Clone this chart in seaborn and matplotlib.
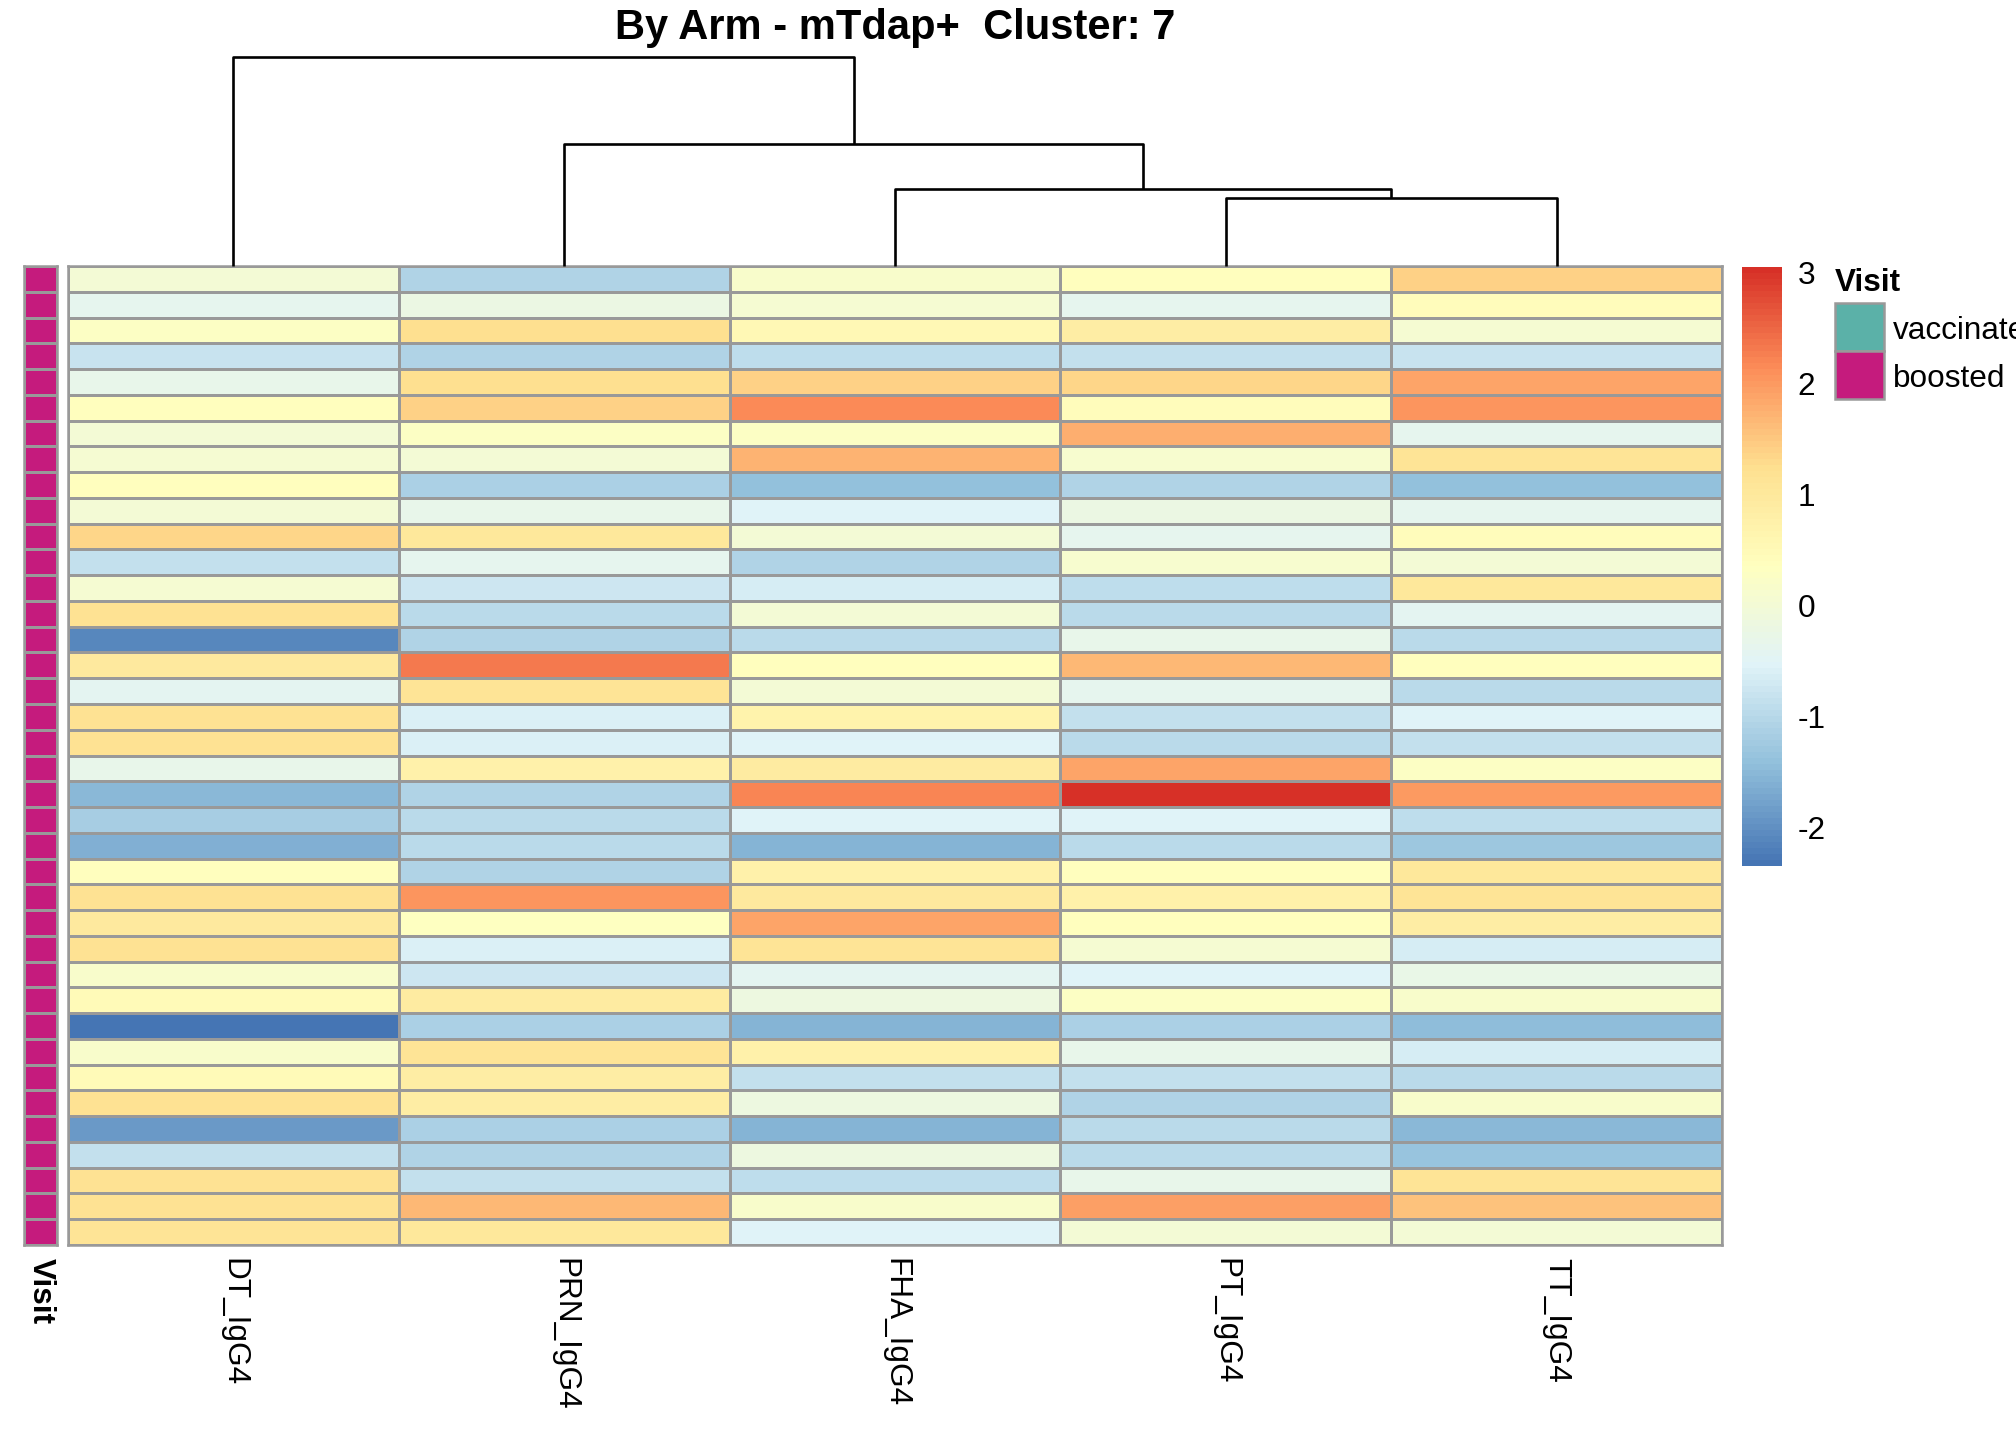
import numpy as np
import pandas as pd
import matplotlib
matplotlib.use("Agg")
import matplotlib.pyplot as plt
from matplotlib.colors import LinearSegmentedColormap, ListedColormap
from matplotlib.patches import Rectangle
import seaborn as sns

# ---- data (z-scored values, top row first) ----
antigens = ["DT_IgG4", "PRN_IgG4", "FHA_IgG4", "PT_IgG4", "TT_IgG4"]

dt = [0.0, -0.4, 0.25, -0.8, -0.3, 0.4, 0.0, 0.05, 0.4, 0.0, 1.35, -0.85, 0.05,
      1.2, -2.1, 0.95, -0.45, 1.2, 1.2, -0.3, -1.5, -1.2, -1.6, 0.4, 1.2, 0.95,
      1.2, 0.15, 0.5, -2.35, 0.15, 0.5, 1.2, -1.9, -0.85, 1.2, 1.2, 1.15]
prn = [-1.1, -0.2, 1.25, -1.1, 1.25, 1.4, 0.25, 0.0, -1.15, -0.3, 1.05, -0.4, -0.75,
       -1.0, -1.1, 2.3, 1.15, -0.6, -0.6, 0.75, -1.1, -0.95, -0.95, -1.1, 2.05, 0.3,
       -0.6, -0.75, 0.9, -1.15, 1.15, 0.85, 0.85, -1.15, -1.1, -0.85, 1.65, 1.05]
fha = [0.15, 0.05, 0.55, -0.9, 1.4, 2.15, 0.25, 1.75, -1.4, -0.55, 0.0, -1.1, -0.65,
       0.0, -0.95, 0.35, 0.0, 0.7, -0.55, 0.9, 2.2, -0.55, -1.55, 0.75, 0.95, 1.9,
       1.15, -0.45, -0.15, -1.55, 0.75, -0.85, -0.15, -1.55, -0.15, -0.9, 0.15, -0.55]
pt = [0.35, -0.4, 0.85, -0.85, 1.35, 0.45, 1.8, 0.1, -1.1, -0.2, -0.4, 0.1, -0.9,
      -0.95, -0.3, 1.65, -0.4, -0.85, -1.0, 1.9, 3.05, -0.55, -0.95, 0.35, 0.75, 0.4,
      0.05, -0.55, 0.25, -1.15, -0.35, -0.85, -1.1, -1.0, -0.95, -0.3, 1.95, 0.0]
tt = [1.4, 0.45, 0.05, -0.8, 1.9, 2.05, -0.4, 1.15, -1.4, -0.4, 0.45, 0.0, 1.05,
      -0.45, -0.95, 0.35, -0.95, -0.55, -0.85, 0.25, 2.0, -0.9, -1.3, 1.05, 1.15, 0.85,
      -0.65, -0.25, 0.15, -1.45, -0.65, -1.0, 0.15, -1.5, -1.35, 1.15, 1.55, 0.0]

visit = ["boosted"] * len(dt)
visit_levels = ["vaccinated", "boosted"]
visit_colors = ["#5BB1A8", "#C51B7D"]

# column dendrogram: (left node, right node, merge height), scipy-style node ids
col_tree = [(3, 4, 0.325), (2, 5, 0.368), (1, 6, 0.584), (0, 7, 1.0)]

title = "By Arm - mTdap+  Cluster: 7"

# ---- style ----
sns.set_theme(style="white")
plt.rcParams["font.family"] = ["Liberation Sans", "DejaVu Sans"]
plt.rcParams["axes.unicode_minus"] = False
plt.rcParams["text.color"] = "black"
plt.rcParams["xtick.color"] = "black"
plt.rcParams["ytick.color"] = "black"
FS = 22.7
GRID = "#999999"

df = pd.DataFrame(dict(zip(antigens, [dt, prn, fha, pt, tt])))

W, H = 2016, 1440
fig = plt.figure(figsize=(W / 100, H / 100), dpi=100)


def box(x0, y0, x1, y1):
    # pixel box (top-left origin) -> figure fraction rect
    return [x0 / W, 1 - y1 / H, (x1 - x0) / W, (y1 - y0) / H]


ax = fig.add_axes(box(68, 266, 1722, 1245))
sax = fig.add_axes(box(24, 266, 57, 1245))
dax = fig.add_axes(box(68, 57, 1722, 266))
cax = fig.add_axes(box(1742, 267, 1782, 866))

# main heatmap, pheatmap-like palette
palette = ["#4575B4", "#91BFDB", "#E0F3F8", "#FFFFBF", "#FEE090", "#FC8D59", "#D73027"]
cmap = LinearSegmentedColormap.from_list("rdylbu_r", palette, N=100)
sns.heatmap(df, ax=ax, cmap=cmap, vmin=df.values.min(), vmax=df.values.max(),
            linewidths=1.8, linecolor=GRID, cbar_ax=cax, yticklabels=False)
ax.set_xticklabels(antigens, rotation=270, va="top", ha="center", fontsize=FS,
                   color="black")
ax.tick_params(axis="x", length=0, pad=9)
for s in ax.spines.values():
    s.set_visible(True)
    s.set_color(GRID)
    s.set_linewidth(1.8)

# colorbar
cbar = ax.collections[0].colorbar
cbar.outline.set_visible(False)
cbar.set_ticks([-2, -1, 0, 1, 2, 3])
cbar.set_ticklabels(["-2", "-1", "0", "1", "2", "3"])
cax.tick_params(length=0, pad=11, labelsize=FS, labelcolor="black")

# annotation strip
codes = pd.DataFrame({"Visit": [visit_levels.index(v) for v in visit]})
sns.heatmap(codes, ax=sax, cmap=ListedColormap(visit_colors), vmin=0, vmax=1,
            cbar=False, linewidths=1.8, linecolor=GRID, yticklabels=False)
sax.set_xticklabels(["Visit"], rotation=270, va="top", ha="center",
                    fontsize=FS, fontweight="bold", color="black")
sax.tick_params(axis="x", length=0, pad=9)
for s in sax.spines.values():
    s.set_visible(True)
    s.set_color(GRID)
    s.set_linewidth(1.8)

# column dendrogram
n = len(antigens)
pos = {i: i + 0.5 for i in range(n)}
hgt = {i: 0.0 for i in range(n)}
for k, (a, b, h) in enumerate(col_tree):
    dax.plot([pos[a], pos[a], pos[b], pos[b]], [hgt[a], h, h, hgt[b]],
             color="black", lw=1.9, clip_on=False, solid_capstyle="butt")
    pos[n + k] = (pos[a] + pos[b]) / 2
    hgt[n + k] = h
dax.set_xlim(0, n)
dax.set_ylim(0, col_tree[-1][2])
dax.axis("off")

# Visit legend
fig.text(1835 / W, 1 - 291 / H, "Visit", fontsize=FS, fontweight="bold",
         ha="left", va="baseline", color="black")
for i, (lab, col) in enumerate(zip(visit_levels, visit_colors)):
    y0 = 303 + i * 48
    fig.patches.append(Rectangle((1835 / W, 1 - (y0 + 48) / H), 49 / W, 48 / H,
                                 transform=fig.transFigure, facecolor=col,
                                 edgecolor=GRID, lw=1.8))
    fig.text(1893 / W, 1 - (y0 + 36) / H, lab, fontsize=FS, ha="left",
             va="baseline", color="black")

fig.text((68 + 1722) / 2 / W, 1 - 39 / H, title, fontsize=30, fontweight="bold",
         ha="center", va="baseline", color="black")

fig.savefig("out.png", dpi=100)
